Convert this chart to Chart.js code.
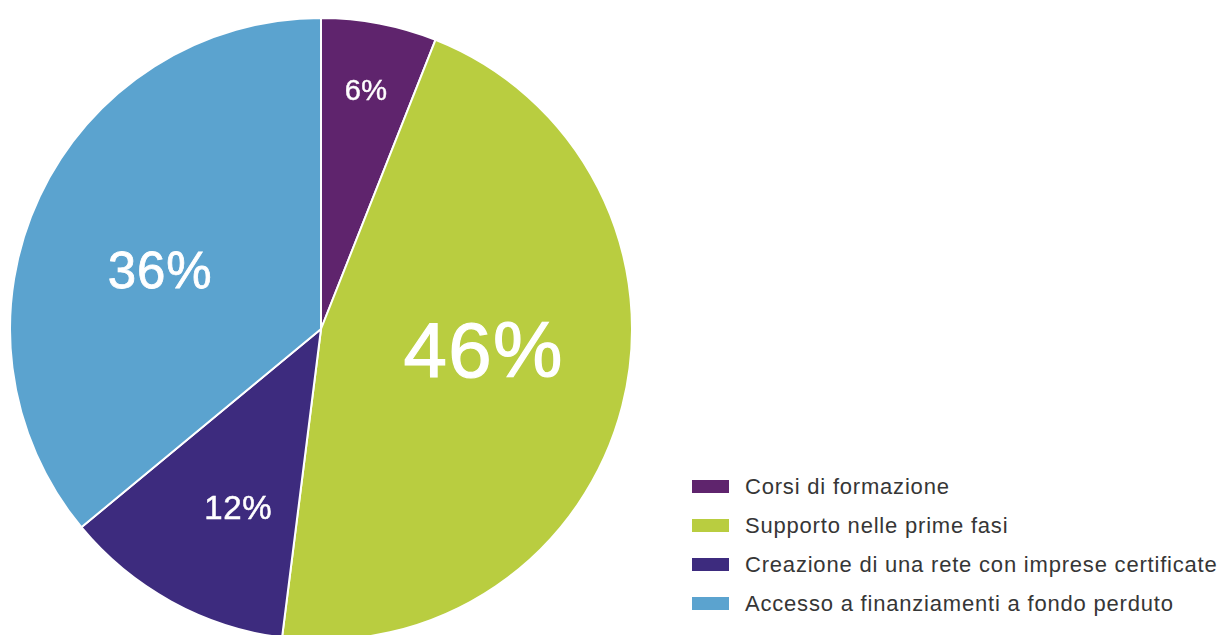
<!DOCTYPE html>
<html>
<head>
<meta charset="utf-8">
<script src="https://cdn.jsdelivr.net/npm/chart.js@4.4.1/dist/chart.umd.min.js"></script>
<style>
  html, body { margin: 0; padding: 0; background: #fff; overflow: hidden; width: 1223px; height: 635px; }
  #wrap { position: absolute; left: 9px; top: 17px; width: 624px; height: 624px; }
  #legend { position: absolute; left: 692px; top: 467px; font-family: "Liberation Sans", Arial, sans-serif; font-size: 22px; letter-spacing: 0.8px; color: #363636; }
  .row { height: 39px; display: flex; align-items: center; white-space: nowrap; }
  .box { width: 37px; height: 13px; margin-right: 16px; }
</style>
</head>
<body>
<div id="wrap"><canvas id="pie"></canvas></div>
<div id="legend"></div>
<script>
// --------------------
// Data
// --------------------
const categories = [
  'Corsi di formazione',
  'Supporto nelle prime fasi',
  'Creazione di una rete con imprese certificate',
  'Accesso a finanziamenti a fondo perduto'
];
const shares = [6, 46, 12, 36];

// styles per slice
const colors = ['#5f246d', '#b9cd40', '#3d2b7e', '#5ba3cf'];
const labelSize = [29, 78, 33, 51];
const labelDist = [0.775, 0.53, 0.64, 0.547];
const labelShift = [0, -5, -4.2, -6.3]; // degrees

// --------------------
// Percent labels inside slices
// --------------------
const sliceLabels = {
  id: 'sliceLabels',
  afterDatasetsDraw(chart) {
    const ctx = chart.ctx;
    const meta = chart.getDatasetMeta(0);
    ctx.save();
    ctx.fillStyle = '#fff';
    ctx.strokeStyle = '#fff';
    ctx.textAlign = 'center';
    ctx.textBaseline = 'middle';
    meta.data.forEach((arc, i) => {
      const { x, y, startAngle, endAngle, outerRadius } = arc.getProps(['x', 'y', 'startAngle', 'endAngle', 'outerRadius'], true);
      const mid = (startAngle + endAngle) / 2 + labelShift[i] * Math.PI / 180;
      const r = outerRadius * labelDist[i];
      const px = x + Math.cos(mid) * r;
      const py = y + Math.sin(mid) * r;
      ctx.font = labelSize[i] + 'px "Liberation Sans", Arial, sans-serif';
      ctx.letterSpacing = (labelSize[i] / 60).toFixed(1) + 'px';
      ctx.lineWidth = labelSize[i] / 65;
      ctx.fillText(shares[i] + '%', px, py);
      ctx.strokeText(shares[i] + '%', px, py);
    });
    ctx.restore();
  }
};

new Chart(document.getElementById('pie'), {
  type: 'pie',
  data: {
    labels: categories,
    datasets: [{
      data: shares,
      backgroundColor: colors,
      borderColor: '#fff',
      borderWidth: 2
    }]
  },
  options: {
    responsive: true,
    maintainAspectRatio: false,
    animation: false,
    layout: { padding: 0 },
    plugins: {
      legend: { display: false },
      tooltip: { enabled: false }
    }
  },
  plugins: [sliceLabels]
});

// --------------------
// Legend
// --------------------
const legend = document.getElementById('legend');
categories.forEach((c, i) => {
  const row = document.createElement('div');
  row.className = 'row';
  row.innerHTML = `<div class="box" style="background:${colors[i]}"></div><span>${c}</span>`;
  legend.appendChild(row);
});
</script>
</body>
</html>
